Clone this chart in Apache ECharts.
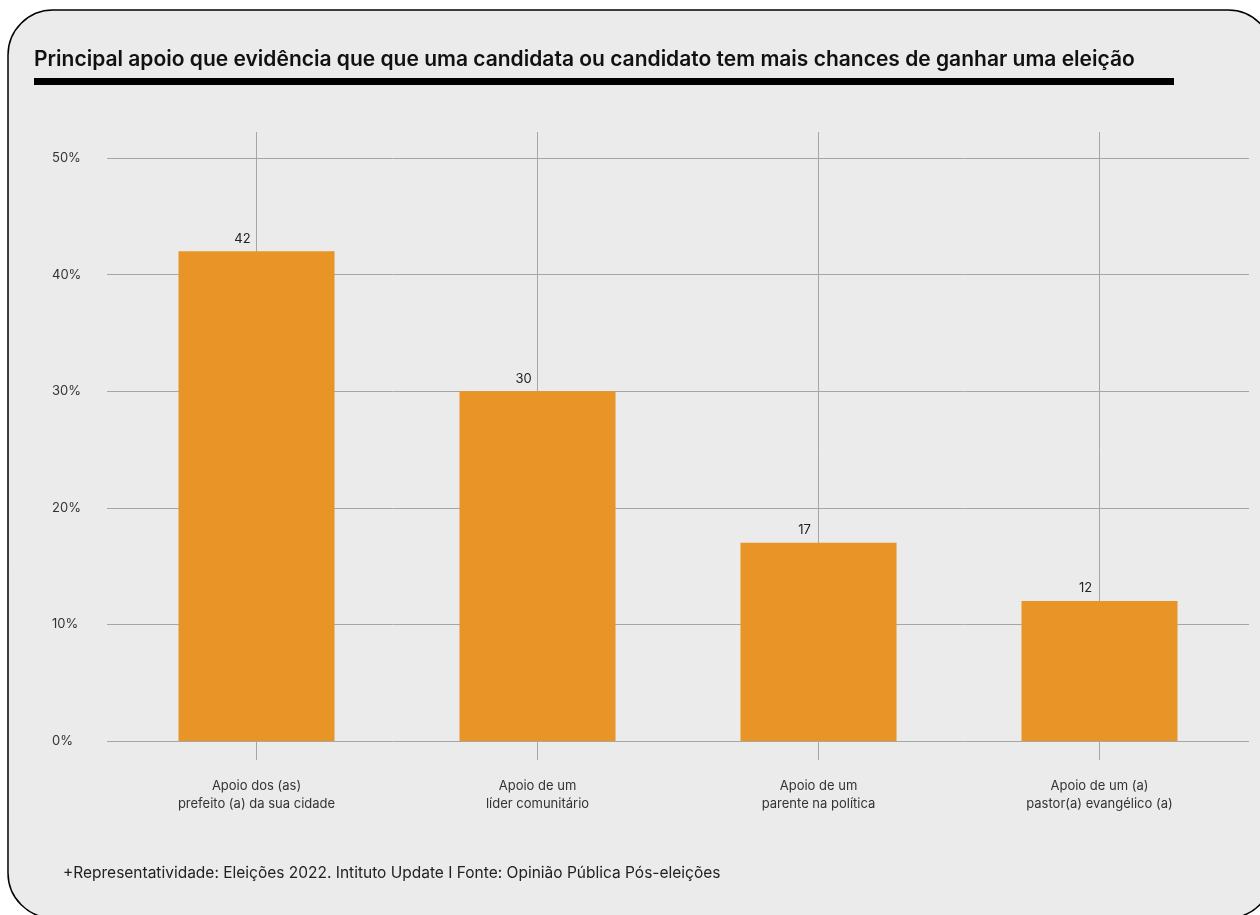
<!DOCTYPE html>
<html>
<head>
<meta charset="utf-8">
<script src="https://cdn.jsdelivr.net/npm/echarts@6/dist/echarts.min.js"></script>
<style>
html,body{margin:0;padding:0;background:#ffffff;}
#chart{width:1260px;height:915px;}
</style>
</head>
<body>
<div id="chart"></div>
<script>
const titleText = 'Principal apoio que evidência que que uma candidata ou candidato tem mais chances de ganhar uma eleição';
const footnote = '+Representatividade: Eleições 2022. Intituto Update I Fonte: Opinião Pública Pós-eleições';
const categories = [
  'Apoio dos (as)\nprefeito (a) da sua cidade',
  'Apoio de um\nlíder comunitário',
  'Apoio de um\nparente na política',
  'Apoio de um (a)\npastor(a) evangélico (a)'
];
const values = [42, 30, 17, 12];
const yMin = 0, yMax = 50, yStep = 10;

const FONT = 'Inter, "Noto Sans", sans-serif';
const GRID_TOP = 158, GRID_BOTTOM = 915 - 741;

const chart = echarts.init(document.getElementById('chart'), null, {renderer: 'canvas'});
chart.setOption({
  backgroundColor: '#ffffff',
  animation: false,
  graphic: [
    {type: 'rect', z: -10, shape: {x: 8, y: 10, width: 1265, height: 908, r: 45},
     style: {fill: '#ebebeb', stroke: '#000000', lineWidth: 1.5}},
    {type: 'rect', z: 10, shape: {x: 34, y: 78, width: 1140, height: 7},
     style: {fill: '#000000'}},
    {type: 'text', z: 10, left: 63, top: 865,
     style: {text: footnote, font: '15.5px ' + FONT, fill: '#222222'}}
  ],
  title: {
    text: titleText, left: 34, top: 49, padding: 0,
    textStyle: {fontFamily: FONT, fontSize: 21, fontWeight: 600, color: '#111111'}
  },
  grid: [
    {left: 116, right: 20, top: GRID_TOP, bottom: GRID_BOTTOM},
    {left: 107, right: 11, top: GRID_TOP, bottom: GRID_BOTTOM}
  ],
  xAxis: [
    {type: 'category', gridIndex: 0, data: categories, position: 'bottom',
     axisLine: {show: false},
     axisTick: {show: true, alignWithLabel: true, length: 19, lineStyle: {color: '#a6a6a6', width: 1}},
     splitLine: {show: true, alignWithLabel: true, lineStyle: {color: '#a6a6a6', width: 1}},
     axisLabel: {margin: 36, fontFamily: FONT, fontSize: 13, color: '#333333', lineHeight: 18, interval: 0}},
    {type: 'category', gridIndex: 0, data: categories, position: 'top',
     axisLine: {show: false},
     axisTick: {show: true, alignWithLabel: true, length: 26, lineStyle: {color: '#a6a6a6', width: 1}},
     axisLabel: {show: false}},
    {type: 'value', gridIndex: 1, show: false}
  ],
  yAxis: [
    {type: 'value', gridIndex: 0, min: yMin, max: yMax, interval: yStep, show: false},
    {type: 'value', gridIndex: 1, min: yMin, max: yMax, interval: yStep,
     axisLine: {show: false}, axisTick: {show: false},
     splitLine: {show: true, lineStyle: {color: '#a6a6a6', width: 1}},
     axisLabel: {formatter: '{value}%', align: 'left', margin: 55,
                 fontFamily: FONT, fontSize: 13, color: '#333333'}}
  ],
  series: [{
    type: 'bar', xAxisIndex: 0, yAxisIndex: 0, data: values, barWidth: 156,
    itemStyle: {color: '#e89427'},
    label: {show: true, position: 'top', distance: 6, offset: [-14, 0],
            fontFamily: FONT, fontSize: 13, color: '#222222'}
  }]
});
</script>
</body>
</html>
